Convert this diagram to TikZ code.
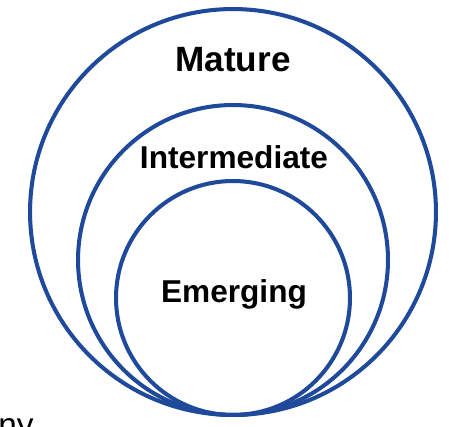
\documentclass[tikz,border=0pt]{standalone}
\usepackage{fontspec}
\setmainfont{Liberation Sans}
\usetikzlibrary{positioning}

\definecolor{ringblue}{RGB}{31,73,155}

\begin{document}
\begin{tikzpicture}[
  x=0.02cm, y=-0.02cm,
  ring/.style={draw=ringblue, line width=2.3pt, circle, inner sep=0pt},
  lvl/.style={font=\bfseries\fontsize{18}{20}\selectfont, anchor=base, inner sep=0pt},
  top/.style={lvl, font=\bfseries\fontsize{20}{22}\selectfont}
]

\clip (0,0) rectangle (449,426);
\useasboundingbox (0,0) rectangle (449,426);

%% ── rings ───────────────────────────────────────────────────────────────
\node[ring, minimum size=8.12cm] (mature)  at (233,212) {};
\node[ring, minimum size=6.20cm] (interm)  at (233,260) {};
\node[ring, minimum size=4.68cm] (emerg)   at (233,298) {};

%% ── labels ──────────────────────────────────────────────────────────────
\node[top] (lmature) at (233,71)  {Mature};
\node[lvl] (linterm) at (234,168) {Intermediate};
\node[lvl] (lemerg)  at (234,302) {Emerging};

% cut-off caption at the bottom edge
\node[anchor=base west, inner sep=0pt, font=\fontsize{19}{21}\selectfont]
  (caption) at (-2,436) {ny};

\end{tikzpicture}
\end{document}
